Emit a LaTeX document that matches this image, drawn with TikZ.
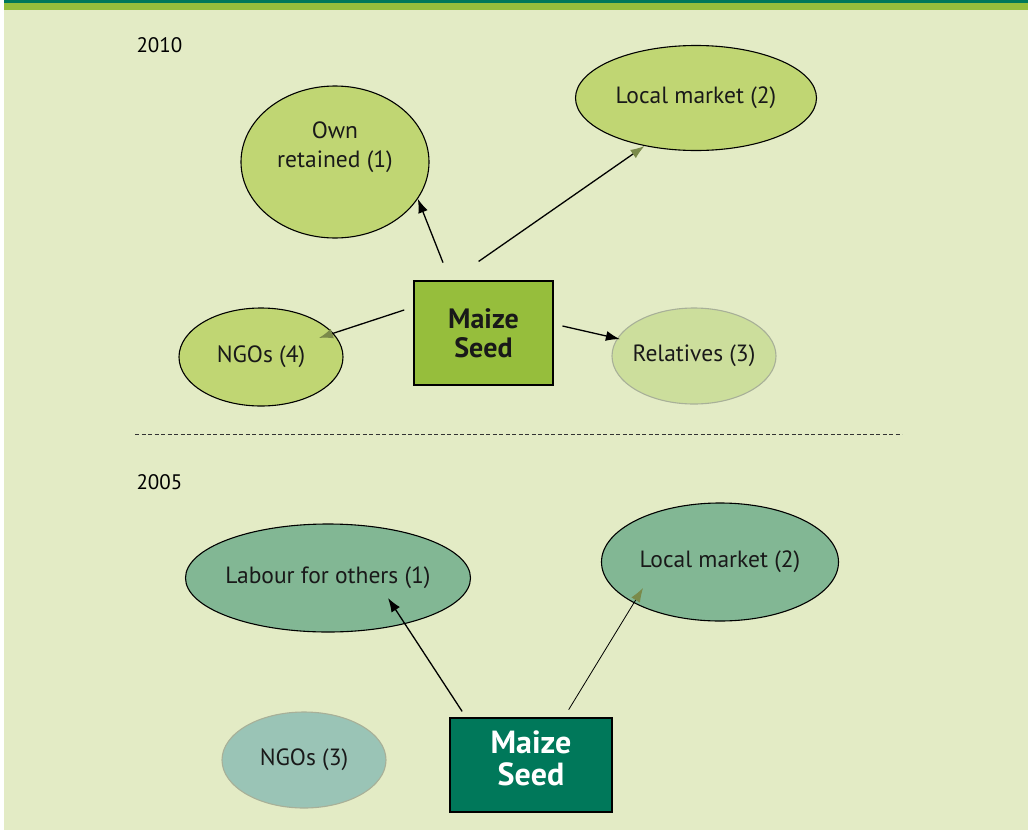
\documentclass[tikz,border=0pt]{standalone}
\usepackage{fontspec}
\setmainfont{PT Sans}
\usetikzlibrary{arrows.meta,shapes.geometric}
\definecolor{pagebg}{HTML}{E3EBC5}
\definecolor{topdark}{HTML}{00785A}
\definecolor{topgreen}{HTML}{96BE3C}
\definecolor{lime}{HTML}{C0D673}
\definecolor{palelime}{HTML}{CCDE9C}
\definecolor{sage}{HTML}{82B794}
\definecolor{palesage}{HTML}{9AC4B6}
\definecolor{seedgreen}{HTML}{96BE3C}
\definecolor{seeddark}{HTML}{00785A}
\definecolor{headgrey}{HTML}{7A8A4A}
\definecolor{rimgrey}{HTML}{A8B098}
\begin{document}
\begin{tikzpicture}[x=1pt,y=-1pt,
    oval/.style={ellipse,draw=black,line width=1.1pt,inner sep=0pt,align=center,
        text=black!90,font=\fontsize{23.5}{29}\selectfont},
    seedbox/.style={rectangle,draw=black,line width=1.4pt,align=center,inner sep=0pt,
        font=\bfseries\fontsize{28}{29}\selectfont},
    arr/.style={line width=1.3pt,-{Latex[length=14pt,width=10pt]}},
    greyarr/.style={arr,-{Latex[length=14pt,width=10pt,color=headgrey]}},
    year/.style={anchor=west,font=\fontsize{21}{24}\selectfont}]
    \useasboundingbox (0,0) rectangle (1028,830);
    % page
    \fill[white] (0,0) rectangle (1028,830);
    \fill[pagebg] (3.5,0) rectangle (1028,830);
    \fill[topgreen] (3.5,0) rectangle (1028,10);
    \fill[topdark] (3.5,0) rectangle (1028,2.7);

    % 2010
    \node[year] (y10) at (133,45) {2010};
    \node[oval,fill=lime,minimum width=188pt,minimum height=152pt,text depth=34pt] (own) at (335,162) {Own\\retained (1)};
    \node[oval,fill=lime,minimum width=241pt,minimum height=105pt] (mkt10) at (696,98) {Local market (2)};
    \node[seedbox,fill=seedgreen,text=black!90,minimum width=139pt,minimum height=104pt] (seed10) at (483.5,333) {Maize\\Seed};
    \node[oval,fill=lime,minimum width=164pt,minimum height=98pt] (ngo10) at (261,357) {NGOs (4)};
    \node[oval,fill=palelime,draw=rimgrey,inner xsep=-6pt,minimum width=164pt,minimum height=96pt] (rel) at (694,356) {Relatives (3)};
    \draw[arr,shorten <=19pt] ([xshift=-33.5pt]seed10.north) -- (own.-24);
    \draw[greyarr,shorten <=33pt] ([xshift=-32pt]seed10.north) -- (mkt10.-137);
    \draw[greyarr,shorten <=9.5pt,shorten >=61pt] ([yshift=26pt]seed10.west) -- (ngo10.center);
    \draw[arr,shorten <=9pt,shorten >=76pt] ([yshift=9pt]seed10.east) -- (rel.center);

    \draw[black!80,line width=0.8pt,dash pattern=on 4pt off 2.5pt] (135,434) -- (902,434);

    % 2005
    \node[year] (y05) at (133,482) {2005};
    \node[oval,fill=sage,inner xsep=-6pt,minimum width=285pt,minimum height=108pt] (lab) at (328,578) {Labour for others (1)};
    \node[oval,fill=sage,minimum width=237pt,minimum height=118pt] (mkt05) at (720,562) {Local market (2)};
    \node[oval,fill=palesage,draw=rimgrey,minimum width=164pt,minimum height=96pt] (ngo05) at (304,760) {NGOs (3)};
    \node[seedbox,fill=seeddark,text=white,minimum width=162pt,minimum height=94pt,text depth=13pt,
        font=\bfseries\fontsize{32}{32}\selectfont] (seed05) at (531,765) {Maize\\Seed};
    \draw[arr,shorten <=7pt] ([xshift=-65pt]seed05.north) -- ([xshift=60pt,yshift=-20pt]lab.center);
    \draw[greyarr,line width=0.8pt,shorten <=9pt] ([xshift=33pt]seed05.north) -- ([xshift=-77pt,yshift=-26pt]mkt05.center);
\end{tikzpicture}
\end{document}
